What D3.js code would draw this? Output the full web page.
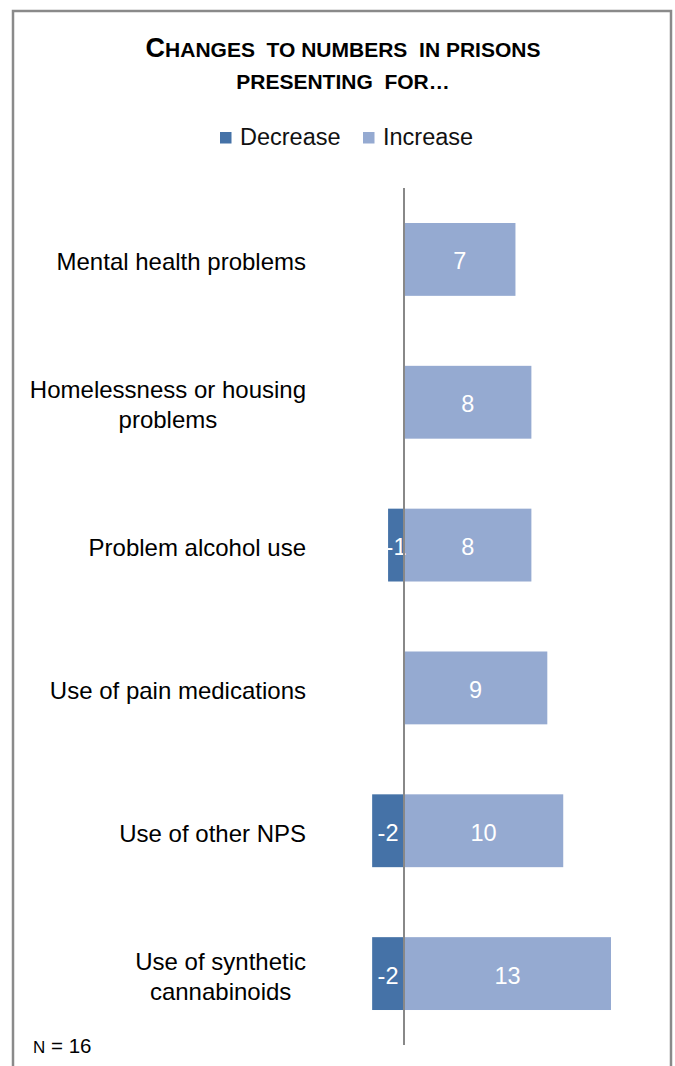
<!DOCTYPE html>
<html>
<head>
<meta charset="utf-8">
<script src="https://cdn.jsdelivr.net/npm/d3@7"></script>
<style>
  html, body { margin: 0; padding: 0; background: #fff; }
  svg { display: block; }
  text { font-family: "Liberation Sans", Arial, sans-serif; }
</style>
</head>
<body>
<svg id="chart" width="675" height="1066"></svg>
<script>
// Categories shown top to bottom
const categories = [
  "Mental health problems",
  "Homelessness or housing problems",
  "Problem alcohol use",
  "Use of pain medications",
  "Use of other NPS",
  "Use of synthetic cannabinoids"
];
// Number of prisons reporting a decrease (negative) or an increase
const decrease = [0, 0, -1, 0, -2, -2];
const increase = [7, 8, 8, 9, 10, 13];
const seriesNames = ["Decrease", "Increase"];
const seriesColors = ["#4572A7", "#95AAD1"];
const sampleNote = "16";

const svg = d3.select("#chart");
const W = 675, H = 1066;

// Outer frame (open at the bottom)
svg.append("path")
  .attr("d", `M13,${H} L13,11 L671,11 L671,${H}`)
  .attr("fill", "none")
  .attr("stroke", "#8a8a8a")
  .attr("stroke-width", 2.5);

// Title in small caps
const title = svg.append("g").attr("font-weight", "bold").attr("fill", "#000")
  .attr("text-anchor", "middle");
const t1 = title.append("text").attr("x", 343).attr("y", 57).attr("xml:space", "preserve");
t1.append("tspan").attr("font-size", 27).text("C");
t1.append("tspan").attr("font-size", 21).text("HANGES  TO NUMBERS  IN PRISONS");
title.append("text").attr("x", 343).attr("y", 89).attr("xml:space", "preserve")
  .attr("font-size", 21).text("PRESENTING  FOR…");

// Legend
const legendItems = [
  { name: seriesNames[0], color: seriesColors[0], x: 220 },
  { name: seriesNames[1], color: seriesColors[1], x: 363 }
];
const lg = svg.append("g");
legendItems.forEach(d => {
  lg.append("rect").attr("x", d.x).attr("y", 132).attr("width", 11.5).attr("height", 11.5)
    .attr("fill", d.color);
  lg.append("text").attr("x", d.x + 20).attr("y", 145).attr("font-size", 23.5)
    .attr("fill", "#111").text(d.name);
});

// Scales
const plotTop = 188, plotBottom = 1045;
const y = d3.scaleBand().domain(categories).range([plotTop, plotBottom]).paddingInner(0.49).paddingOuter(0.245);
const x = d3.scaleLinear().domain([0, 13]).range([404, 611]);

// Bars
const rows = categories.map((c, i) => ({ c, dec: decrease[i], inc: increase[i] }));
const bars = svg.append("g");
bars.selectAll("rect.inc").data(rows).join("rect").attr("class", "inc")
  .attr("x", d => x(0)).attr("width", d => x(d.inc) - x(0))
  .attr("y", d => y(d.c)).attr("height", y.bandwidth())
  .attr("fill", seriesColors[1]);
bars.selectAll("rect.dec").data(rows.filter(d => d.dec < 0)).join("rect").attr("class", "dec")
  .attr("x", d => x(d.dec)).attr("width", d => x(0) - x(d.dec))
  .attr("y", d => y(d.c)).attr("height", y.bandwidth())
  .attr("fill", seriesColors[0]);

// Value labels
const vl = svg.append("g").attr("fill", "#fff").attr("font-size", 23.5).attr("text-anchor", "middle");
vl.selectAll("text.inc").data(rows).join("text")
  .attr("x", d => (x(0) + x(d.inc)) / 2)
  .attr("y", d => y(d.c) + y.bandwidth() / 2 + 10)
  .text(d => d.inc);
vl.selectAll("text.dec").data(rows.filter(d => d.dec < 0)).join("text")
  .attr("x", d => (x(0) + x(d.dec)) / 2)
  .attr("y", d => y(d.c) + y.bandwidth() / 2 + 10)
  .text(d => d.dec);

// Vertical category axis at zero
svg.append("line").attr("x1", x(0)).attr("x2", x(0)).attr("y1", plotTop).attr("y2", plotBottom)
  .attr("stroke", "#888").attr("stroke-width", 2);

// Category labels: wrapped, lines centred within the block, block right-aligned
const labelRight = 306, wrapWidth = 290, lineH = 30, fs = 24;
const lab = svg.append("g").attr("font-size", fs).attr("fill", "#000");
categories.forEach(c => {
  const words = c.split(" ");
  const lines = [];
  let cur = "";
  const probe = lab.append("text");
  words.forEach(w => {
    const test = cur ? cur + " " + w : w;
    probe.text(test);
    if (probe.node().getComputedTextLength() > wrapWidth && cur) {
      lines.push(cur); cur = w;
    } else cur = test;
  });
  lines.push(cur);
  const widths = lines.map(l => { probe.text(l); return probe.node().getComputedTextLength(); });
  probe.remove();
  const blockW = d3.max(widths);
  const cx = labelRight - blockW / 2;
  const cy = y(c) + y.bandwidth() / 2;
  lines.forEach((l, i) => {
    lab.append("text").attr("text-anchor", "middle").attr("x", cx)
      .attr("y", cy + (i - (lines.length - 1) / 2) * lineH + 11)
      .text(l);
  });
});

// Sample size note
const note = svg.append("text").attr("x", 33).attr("y", 1053).attr("fill", "#000");
note.append("tspan").attr("font-size", 17).text("N");
note.append("tspan").attr("font-size", 20.5).text(" = " + sampleNote);
</script>
</body>
</html>
